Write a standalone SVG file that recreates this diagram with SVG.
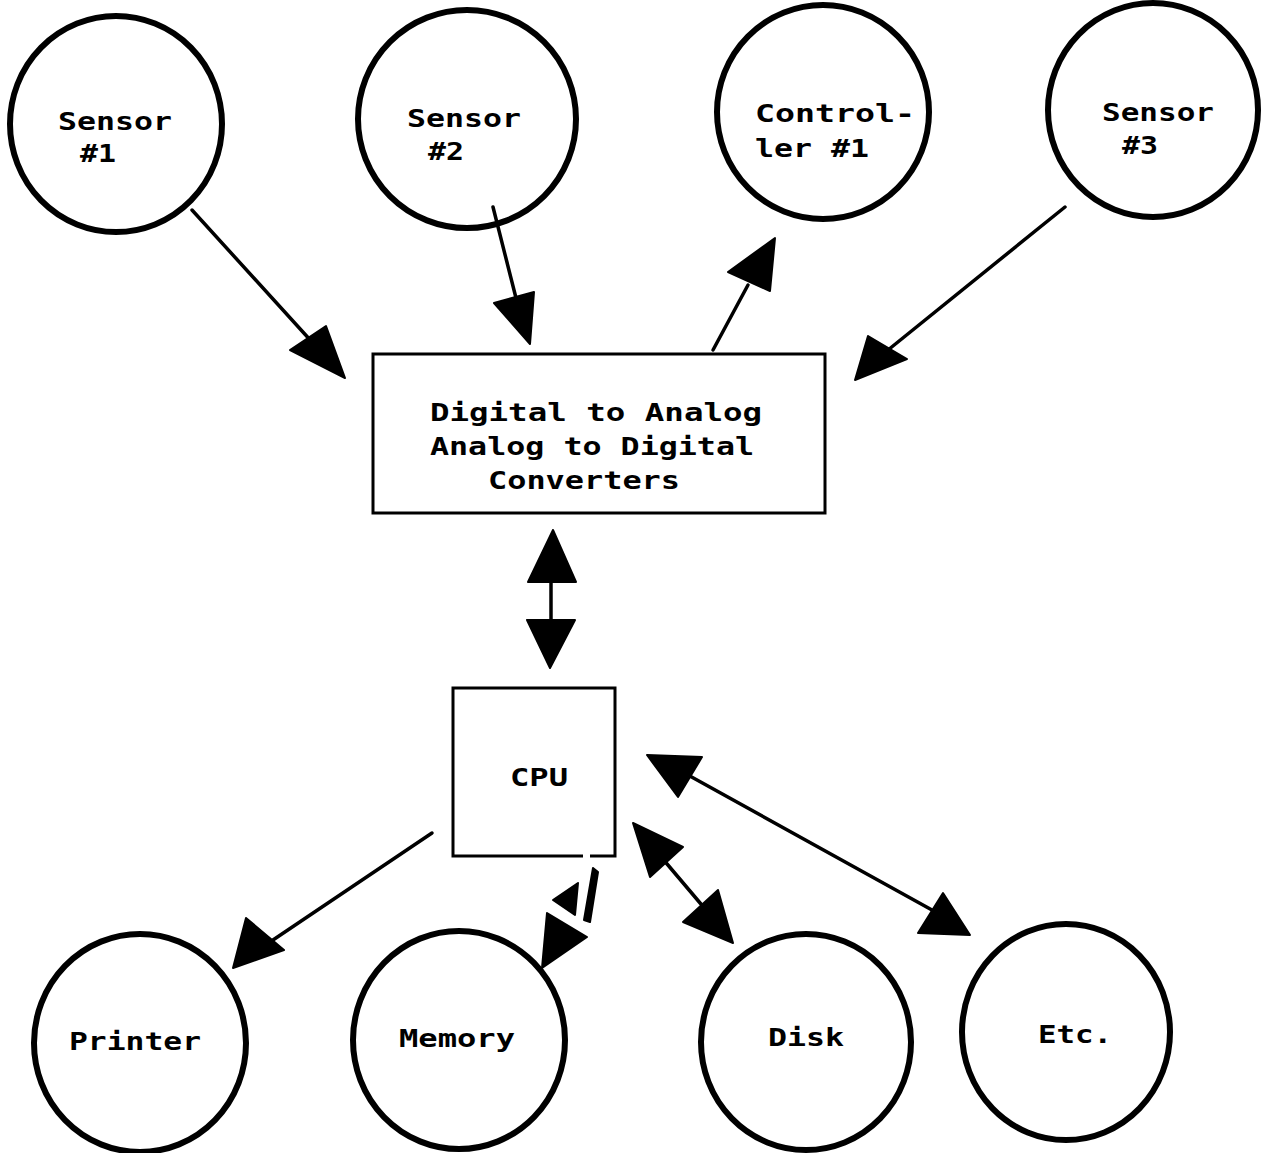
<svg xmlns="http://www.w3.org/2000/svg" width="1263" height="1153" viewBox="0 0 1263 1153">
  <style>
    .node-circle { fill: none; stroke: #000; stroke-width: 6; }
    .node-box { fill: none; stroke: #000; stroke-width: 3; }
    .label { font-family: "DejaVu Sans Mono", "Liberation Mono", monospace; font-weight: bold; font-size: 24px; fill: #000; }
    .edge { stroke: #000; stroke-width: 3.5; fill: none; stroke-linecap: round; }
    .head { fill: #000; stroke: #000; stroke-width: 2; stroke-linejoin: round; }
  </style>
  <rect width="1263" height="1153" fill="#fff"/>

  <!-- Top row -->
  <g id="sensor1">
    <ellipse class="node-circle" cx="116" cy="124" rx="106" ry="108"/>
    <text class="label" x="58" y="130" textLength="114" lengthAdjust="spacingAndGlyphs">Sensor</text>
    <text class="label" x="80" y="162" textLength="36" lengthAdjust="spacingAndGlyphs">#1</text>
  </g>
  <g id="sensor2">
    <ellipse class="node-circle" cx="467" cy="119" rx="109" ry="109"/>
    <text class="label" x="407" y="127" textLength="114" lengthAdjust="spacingAndGlyphs">Sensor</text>
    <text class="label" x="428" y="160" textLength="36" lengthAdjust="spacingAndGlyphs">#2</text>
  </g>
  <g id="controller1">
    <ellipse class="node-circle" cx="823" cy="112" rx="106" ry="107"/>
    <text class="label" x="755" y="122" textLength="160" lengthAdjust="spacingAndGlyphs">Control-</text>
    <text class="label" x="755" y="157" textLength="114" lengthAdjust="spacingAndGlyphs">ler #1</text>
  </g>
  <g id="sensor3">
    <ellipse class="node-circle" cx="1153" cy="110" rx="105" ry="107"/>
    <text class="label" x="1102" y="121" textLength="112" lengthAdjust="spacingAndGlyphs">Sensor</text>
    <text class="label" x="1122" y="154" textLength="36" lengthAdjust="spacingAndGlyphs">#3</text>
  </g>

  <!-- Converter block -->
  <g id="converters">
    <rect class="node-box" x="373" y="354" width="452" height="159"/>
    <text class="label" x="430" y="421" textLength="332" lengthAdjust="spacingAndGlyphs">Digital to Analog</text>
    <text class="label" x="430" y="455" textLength="324" lengthAdjust="spacingAndGlyphs">Analog to Digital</text>
    <text class="label" x="488" y="489" textLength="192" lengthAdjust="spacingAndGlyphs">Converters</text>
  </g>

  <!-- Processor -->
  <g id="cpu">
    <path class="node-box" d="M583 856 H453 V688 H615 V856 H590"/>
    <text class="label" x="510" y="786" textLength="58" lengthAdjust="spacingAndGlyphs">CPU</text>
  </g>

  <!-- Bottom row -->
  <g id="printer">
    <ellipse class="node-circle" cx="140" cy="1043" rx="106" ry="109"/>
    <text class="label" x="69" y="1050" textLength="132" lengthAdjust="spacingAndGlyphs">Printer</text>
  </g>
  <g id="memory">
    <ellipse class="node-circle" cx="459" cy="1040" rx="106" ry="109"/>
    <text class="label" x="399" y="1047" textLength="116" lengthAdjust="spacingAndGlyphs">Memory</text>
  </g>
  <g id="disk">
    <ellipse class="node-circle" cx="806" cy="1042" rx="105" ry="108"/>
    <text class="label" x="768" y="1046" textLength="76" lengthAdjust="spacingAndGlyphs">Disk</text>
  </g>
  <g id="etc">
    <ellipse class="node-circle" cx="1066" cy="1032" rx="104" ry="108"/>
    <text class="label" x="1038" y="1043" textLength="74" lengthAdjust="spacingAndGlyphs">Etc.</text>
  </g>

  <!-- Connectors -->
  <g id="connectors">
    <!-- Sensor #1 to converters -->
    <line class="edge" x1="192" y1="210" x2="312" y2="342"/>
    <polygon class="head" points="290,350 326,326 345,378"/>
    <!-- Sensor #2 to converters -->
    <line class="edge" x1="493" y1="207" x2="516" y2="298"/>
    <polygon class="head" points="494,303 534,292 530,344"/>
    <!-- converters to Controller #1 -->
    <line class="edge" x1="713" y1="350" x2="748" y2="285"/>
    <polygon class="head" points="728,272 775,238 770,291"/>
    <!-- Sensor #3 to converters -->
    <line class="edge" x1="1065" y1="207" x2="888" y2="350"/>
    <polygon class="head" points="868,336 907,359 855,380"/>
    <!-- converters and CPU -->
    <line class="edge" x1="551" y1="578" x2="551" y2="624"/>
    <polygon class="head" points="553,530 528,582 576,582"/>
    <polygon class="head" points="550,668 527,620 575,620"/>
    <!-- CPU to Printer -->
    <line class="edge" x1="432" y1="833" x2="270" y2="942"/>
    <polygon class="head" points="233,968 246,918 284,950"/>
    <!-- CPU to Memory -->
    <polygon class="head" points="593,868 598,872 590,922 584,920"/>
    <polygon class="head" points="578,883 553,900 575,915"/>
    <polygon class="head" points="547,913 587,937 542,968"/>
    <!-- CPU and Disk -->
    <line class="edge" x1="662" y1="858" x2="706" y2="910"/>
    <polygon class="head" points="633,823 650,877 683,847"/>
    <polygon class="head" points="733,943 683,922 718,890"/>
    <!-- CPU and Etc. -->
    <line class="edge" x1="688" y1="775" x2="932" y2="910"/>
    <polygon class="head" points="647,755 678,797 702,757"/>
    <polygon class="head" points="970,935 918,933 943,893"/>
  </g>
</svg>
